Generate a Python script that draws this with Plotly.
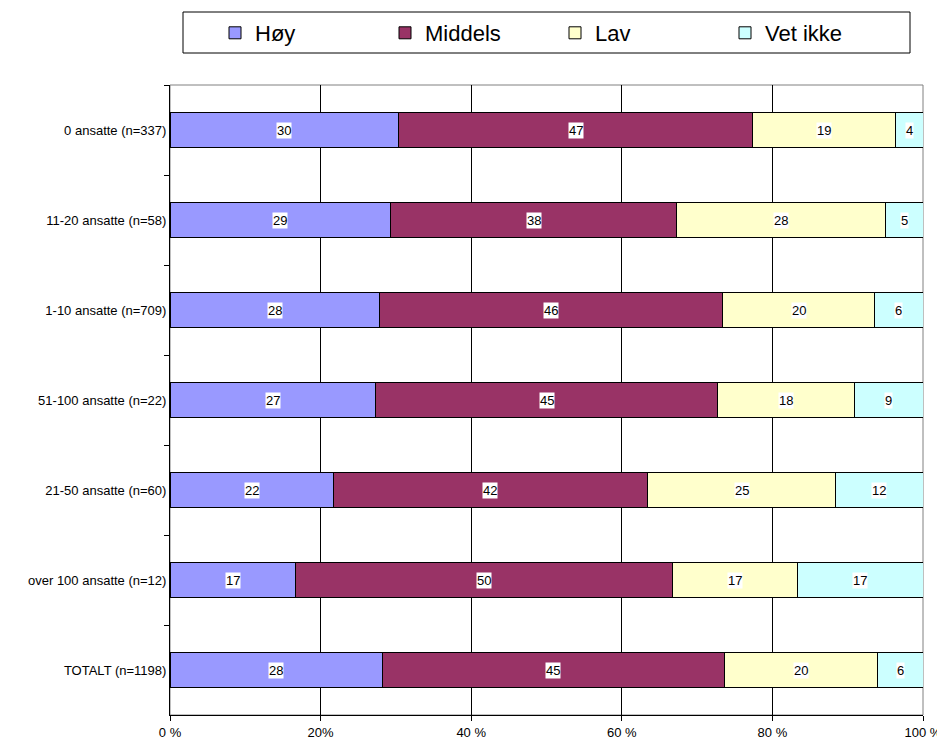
import plotly.graph_objects as go

categories = [
    "0 ansatte (n=337)",
    "11-20 ansatte (n=58)",
    "1-10 ansatte (n=709)",
    "51-100 ansatte (n=22)",
    "21-50 ansatte (n=60)",
    "over 100 ansatte (n=12)",
    "TOTALT (n=1198)",
]
series_names = ["Høy", "Middels", "Lav", "Vet ikke"]
hoy = [30.4, 29.3, 27.8, 27.3, 21.7, 16.7, 28.2]
middels = [47.0, 38.0, 45.6, 45.4, 41.7, 50.0, 45.4]
lav = [19.0, 27.7, 20.2, 18.2, 25.0, 16.6, 20.4]
vet_ikke = [3.6, 5.0, 6.4, 9.1, 11.6, 16.7, 6.0]
tick_vals = [0, 20, 40, 60, 80, 100]
tick_labels = ["0 %", "20%", "40 %", "60 %", "80 %", "100 %"]

colors = ["#9999FF", "#993366", "#FFFFCC", "#CCFFFF"]
series = [hoy, middels, lav, vet_ikke]
FONT = "Liberation Sans, Arial, sans-serif"

W, H = 937, 732
L, R, T, B = 162, 22, 77, 25
PW, PH = W - L - R, H - T - B


def px_x(x):
    return (x - L) / PW


def px_y(y):
    return (H - B - y) / PH


fig = go.Figure()
for name, vals, col in zip(series_names, series, colors):
    fig.add_trace(go.Bar(
        y=categories, x=vals, name=name, orientation="h",
        marker=dict(color=col, line=dict(color="black", width=1)),
        hoverinfo="x+y",
    ))

annotations = []
base = [0.0] * len(categories)
for vals in series:
    for i, (c, v) in enumerate(zip(categories, vals)):
        annotations.append(dict(
            x=base[i] + v / 2, y=c, xref="x", yref="y",
            text=f"{v:.0f}", showarrow=False,
            font=dict(family=FONT, size=13, color="black"),
            bgcolor="white", borderpad=0,
        ))
        base[i] += v

fig.update_layout(
    barmode="stack",
    bargap=0.61,
    width=W, height=H,
    margin=dict(l=L, r=R, t=T, b=B, autoexpand=False),
    paper_bgcolor="white", plot_bgcolor="white",
    font=dict(family=FONT, size=13, color="black"),
    annotations=annotations,
    legend=dict(
        orientation="h", xref="container", yref="container",
        x=207 / W, xanchor="left", y=1 - 25 / H, yanchor="middle",
        font=dict(family=FONT, size=22, color="black"),
        borderwidth=0, bgcolor="rgba(0,0,0,0)",
        entrywidth=125, entrywidthmode="pixels",
        traceorder="normal",
    ),
    shapes=[
        dict(type="rect", xref="paper", yref="paper", x0=0, x1=1, y0=0, y1=1,
             line=dict(color="#808080", width=1), layer="between"),
        dict(type="rect", xref="paper", yref="paper",
             x0=px_x(175), x1=px_x(902), y0=px_y(45), y1=px_y(4),
             line=dict(color="black", width=1), fillcolor="rgba(0,0,0,0)",
             layer="above"),
    ],
)
fig.update_xaxes(
    range=[0, 100], tickvals=tick_vals, ticktext=tick_labels,
    showgrid=True, gridcolor="black", gridwidth=1,
    showline=True, linecolor="black", linewidth=1,
    ticks="outside", ticklen=5, tickcolor="black",
    zeroline=False, fixedrange=True,
    tickfont=dict(size=13),
)
fig.update_yaxes(
    type="category", autorange="reversed",
    categoryorder="array", categoryarray=categories,
    tickson="boundaries", ticks="outside", ticklen=5, tickcolor="black",
    showline=True, linecolor="black", linewidth=1,
    showgrid=False, fixedrange=True,
    tickfont=dict(size=13),
)

fig.write_html("out.html")
